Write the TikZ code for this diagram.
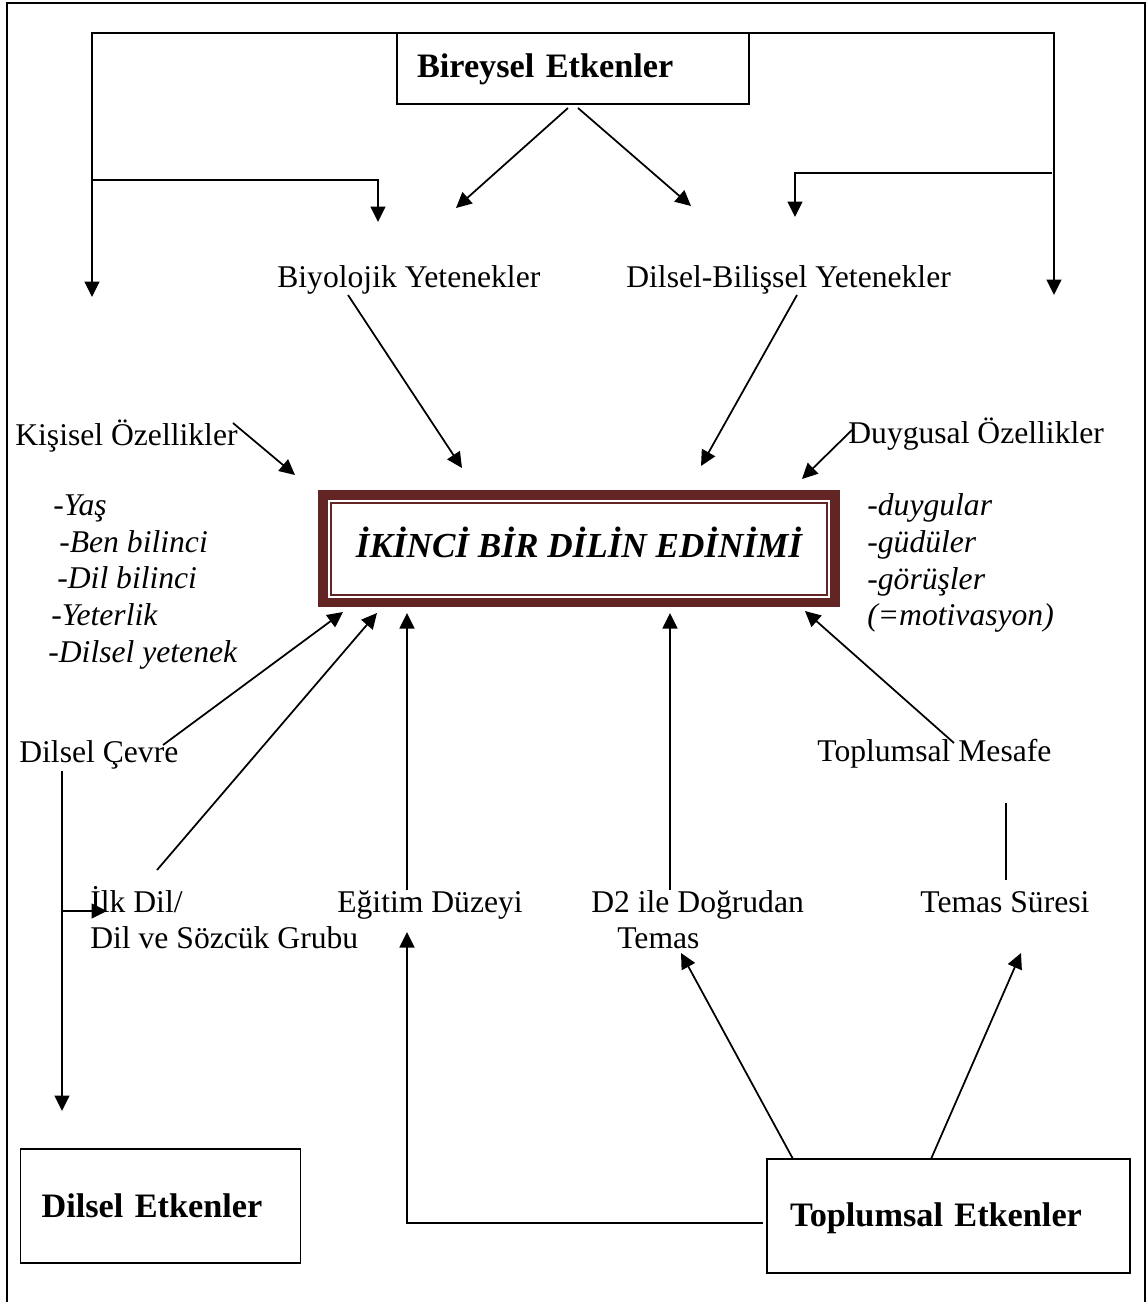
\documentclass[tikz,border=0pt]{standalone}
\usepackage{fontspec}
\setmainfont{Liberation Serif}
\usetikzlibrary{arrows.meta}
\definecolor{brn}{HTML}{632523}
\begin{document}
\begin{tikzpicture}[x=0.02cm,y=-0.02cm,
  txt/.style={font=\fontsize{18}{22}\selectfont, inner sep=0pt, anchor=base west},
  itx/.style={txt, font=\fontsize{18}{22}\selectfont\itshape},
  bbox/.style={draw, line width=0.035cm, outer sep=0pt, inner ysep=0pt, align=left, text depth=0pt,
    font=\fontsize{19.5}{23}\selectfont\bfseries},
  arr/.style={line width=0.035cm, -{Triangle[length=0.31cm,width=0.3cm]}},
  ln/.style={line width=0.035cm},
  frame/.style={line width=0.03cm}]
\useasboundingbox (0,0) rectangle (1148,1302);
\draw[frame] (7,1302) -- (7,3) -- (1145,3) -- (1145,1302);

% boxes
\node[bbox, minimum width=7.04cm, minimum height=1.42cm, text width=6.24cm, inner xsep=0.4cm, text height=0.34cm] (bir) at (573,68.5) {Bireysel Etkenler};
\node[bbox, minimum width=5.6cm, minimum height=2.28cm, text width=4.76cm, inner xsep=0.42cm, text height=0.44cm] (dil) at (160.5,1206) {Dilsel Etkenler};
\node[bbox, minimum width=7.26cm, minimum height=2.28cm, text width=6.34cm, inner xsep=0.46cm, text height=0.4cm] (top) at (948.5,1216) {Toplumsal Etkenler};

% central box
\node[draw=brn, line width=0.04cm, outer sep=0pt, inner sep=0pt, minimum width=9.94cm, minimum height=1.83cm,
  text height=0.33cm, text depth=0pt, font=\fontsize{20}{24}\selectfont\bfseries\itshape] (ti) at (579,548.75) {İKİNCİ BİR DİLİN EDİNİMİ};
\draw[brn, line width=0.2cm] ([shift={(-0.16cm,-0.16cm)}]ti.south west) rectangle ([shift={(0.16cm,0.16cm)}]ti.north east);

% texts
\node[txt] (bio) at (277,287) {Biyolojik Yetenekler};
\node[txt] (dbil) at (626,287) {Dilsel-Bilişsel Yetenekler};
\node[txt] (kis) at (15,445) {Kişisel Özellikler};
\node[txt] (duy) at (848,443) {Duygusal Özellikler};
\node[itx] (k1) at (53,515) {-Yaş};
\node[itx] (k2) at (59,552) {-Ben bilinci};
\node[itx] (k3) at (57,588) {-Dil bilinci};
\node[itx] (k4) at (51,625) {-Yeterlik};
\node[itx] (k5) at (48,662) {-Dilsel yetenek};
\node[itx] (d1) at (867,515) {-duygular};
\node[itx] (d2) at (867,552) {-güdüler};
\node[itx] (d3) at (867,589) {-görüşler};
\node[itx] (d4) at (867,625) {(=motivasyon)};
\node[txt] (cev) at (19,762) {Dilsel Çevre};
\node[txt] (mes) at (817,761) {Toplumsal Mesafe};
\node[txt] (ilk1) at (90,912) {İlk Dil/};
\node[txt] (ilk2) at (90,948) {Dil ve Sözcük Grubu};
\node[txt] (egi) at (337,912) {Eğitim Düzeyi};
\node[txt] (dtm1) at (591,912) {D2 ile Doğrudan};
\node[txt] (dtm2) at (617,948) {Temas};
\node[txt] (tsr) at (920,912) {Temas Süresi};

% coordinates
\coordinate (a1e) at (92,297);
\coordinate (a2s) at (92,180);   \coordinate (a2e) at (378,222);
\coordinate (a3e) at (1054,295);
\coordinate (a4s) at (1052,173); \coordinate (a4e) at (795,217);
\coordinate (a5s) at (568,108);  \coordinate (a5e) at (456,208);
\coordinate (a6s) at (578,108);  \coordinate (a6e) at (691,206);
\coordinate (a7s) at (348,295);  \coordinate (a7e) at (462,468);
\coordinate (a8s) at (797,295);  \coordinate (a8e) at (701,466);
\coordinate (a9s) at (233,423);  \coordinate (a9e) at (295,475);
\coordinate (a10s) at (852,430); \coordinate (a10e) at (802,479);
\coordinate (a11s) at (163,745); \coordinate (a11e) at (343,612);
\coordinate (a12s) at (157,870); \coordinate (a12e) at (377,613);
\coordinate (a13s) at (407,890); \coordinate (a13e) at (407,613);
\coordinate (a14s) at (670,890); \coordinate (a14e) at (670,613);
\coordinate (a15s) at (954,743); \coordinate (a15e) at (805,611);
\coordinate (a16s) at (62,771);  \coordinate (a16e) at (62,1111);
\coordinate (a17s) at (62,911);  \coordinate (a17e) at (107,911);
\coordinate (l18s) at (1006,803); \coordinate (l18e) at (1006,880);
\coordinate (a19s) at (763,1223); \coordinate (a19e) at (407,932);
\coordinate (a20s) at (793,1159); \coordinate (a20e) at (681,953);
\coordinate (a21s) at (931,1159); \coordinate (a21e) at (1021,953);

% connectors
\draw[arr] (bir.north west) -| (a1e);
\draw[arr] (a2s) -| (a2e);
\draw[arr] (bir.north east) -| (a3e);
\draw[arr] (a4s) -| (a4e);
\draw[arr] (a5s) -- (a5e);
\draw[arr] (a6s) -- (a6e);
\draw[arr] (a7s) -- (a7e);
\draw[arr] (a8s) -- (a8e);
\draw[arr] (a9s) -- (a9e);
\draw[arr] (a10s) -- (a10e);
\draw[arr] (a11s) -- (a11e);
\draw[arr] (a12s) -- (a12e);
\draw[arr] (a13s) -- (a13e);
\draw[arr] (a14s) -- (a14e);
\draw[arr] (a15s) -- (a15e);
\draw[arr] (a16s) -- (a16e);
\draw[arr] (a17s) -- (a17e);
\draw[ln] (l18s) -- (l18e);
\draw[arr] (a19s) -| (a19e);
\draw[arr] (a20s) -- (a20e);
\draw[arr] (a21s) -- (a21e);
\end{tikzpicture}
\end{document}
